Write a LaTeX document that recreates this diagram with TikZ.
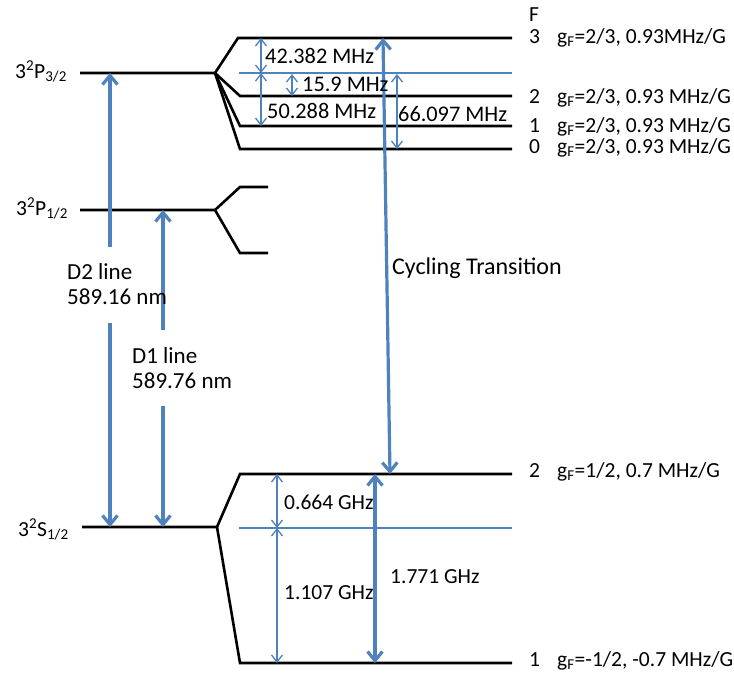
\documentclass[tikz,border=0pt]{standalone}
\usepackage{fontspec}
\setmainfont{Carlito}
\usetikzlibrary{arrows.meta}
\definecolor{oblue}{RGB}{79,129,189}
\begin{document}
\begin{tikzpicture}[x=1pt,y=-1pt,
  level/.style={line width=2.6pt, black, line join=miter},
  fine/.style={oblue, line width=1.3pt},
  gaparrow/.style={fine, {Straight Barb[length=7pt,width=11pt]}-{Straight Barb[length=7pt,width=11pt]}},
  bigtip/.style={oblue, line width=3.2pt, -{Straight Barb[length=9pt,width=15pt]}},
  bigboth/.style={oblue, line width=3.2pt, {Straight Barb[length=9pt,width=15pt]}-{Straight Barb[length=9pt,width=15pt]}},
  lab/.style={font=\fontsize{21.5}{25}\selectfont, inner sep=0pt, anchor=base west},
  labm/.style={lab, font=\fontsize{22.3}{26}\selectfont},
  labd/.style={lab, font=\fontsize{23}{27}\selectfont},
  labc/.style={lab, font=\fontsize{24}{28}\selectfont}]
\useasboundingbox (0,0) rectangle (734,673);

% ---- level coordinates ----
\coordinate (P3L) at (80,73);  \coordinate (P3f) at (215,73);
\coordinate (F3a) at (238,38); \coordinate (F3b) at (512,38);
\coordinate (F2a) at (240,96); \coordinate (F2b) at (512,96);
\coordinate (F1a) at (240,126); \coordinate (F1b) at (512,126);
\coordinate (F0a) at (240,149); \coordinate (F0b) at (512,149);
\coordinate (P3bl) at (239,73); \coordinate (P3br) at (512,73);

\coordinate (P1L) at (80,210); \coordinate (P1f) at (215,210);
\coordinate (P1ua) at (240,187); \coordinate (P1ub) at (268,187);
\coordinate (P1la) at (240,253); \coordinate (P1lb) at (268,253);

\coordinate (SL) at (82,527); \coordinate (Sf) at (217,527);
\coordinate (S2a) at (240,474); \coordinate (S2b) at (512,474);
\coordinate (S1a) at (240,663); \coordinate (S1b) at (512,663);
\coordinate (Sbl) at (239,528); \coordinate (Sbr) at (512,528);

% ---- levels ----
\draw[level] (P3L) -- (P3f) -- (F3a) -- (F3b);
\draw[level] (P3f) -- (F2a) -- (F2b);
\draw[level] (P3f) -- (F1a) -- (F1b);
\draw[level] (P3f) -- (F0a) -- (F0b);
\draw[fine] (P3bl) -- (P3br);

\draw[level] (P1L) -- (P1f) -- (P1ua) -- (P1ub);
\draw[level] (P1f) -- (P1la) -- (P1lb);

\draw[level] (SL) -- (Sf) -- (S2a) -- (S2b);
\draw[level] (Sf) -- (S1a) -- (S1b);
\draw[fine] (Sbl) -- (Sbr);

% ---- splitting arrows ----
\coordinate (a1t) at (261,38);  \coordinate (a1b) at (261,73);
\coordinate (a2b) at (261,126);
\coordinate (a3t) at (292,74);  \coordinate (a3b) at (292,96);
\coordinate (a4t) at (397,74);  \coordinate (a4b) at (397,149);
\draw[gaparrow] (a1t) -- (a1b);
\draw[gaparrow] (a1b) -- (a2b);
\draw[gaparrow] (a3t) -- (a3b);
\draw[gaparrow] (a4t) -- (a4b);

\coordinate (g1t) at (277,474); \coordinate (g1m) at (277,528); \coordinate (g1b) at (277,663);
\draw[gaparrow] (g1t) -- (g1m);
\draw[gaparrow] (g1m) -- (g1b);
\coordinate (g2t) at (375,474); \coordinate (g2b) at (375,663);
\draw[bigboth] (g2t) -- (g2b);

% cycling transition
\coordinate (ct) at (383,38); \coordinate (cb) at (390,474);
\draw[bigboth] (cb) -- (ct);

% D lines
\coordinate (d2u) at (110,247); \coordinate (d2t) at (110,73);
\coordinate (d2d) at (110,323); \coordinate (d2b) at (110,527);
\coordinate (d1u) at (163,330); \coordinate (d1t) at (163,210);
\coordinate (d1d) at (163,406); \coordinate (d1b) at (163,527);
\draw[bigtip] (d2u) -- (d2t);
\draw[bigtip] (d2d) -- (d2b);
\draw[bigtip] (d1u) -- (d1t);
\draw[bigtip] (d1d) -- (d1b);

% ---- labels ----
\node[labm] (l1) at (265,63) {42.382 MHz};
\node[labm] (l2) at (302,91) {15.9 MHz};
\node[labm] (l3) at (267,118) {50.288 MHz};
\node[labm] (l4) at (398,121) {66.097 MHz};
\node[labc] (lc) at (392,274) {Cycling Transition};
\node[labd] (ld2a) at (67,279) {D2 line};
\node[labd] (ld2b) at (67,304) {589.16 nm};
\node[labd] (ld1a) at (132,363) {D1 line};
\node[labd] (ld1b) at (132,388) {589.76 nm};
\node[lab] (lg1) at (284,509) {0.664 GHz};
\node[lab] (lg2) at (284,599) {1.107 GHz};
\node[lab] (lg3) at (390,583) {1.771 GHz};

\node[lab] (lP3) at (15,78) {3\textsuperscript{2}P\textsubscript{3/2}};
\node[lab] (lP1) at (16,215) {3\textsuperscript{2}P\textsubscript{1/2}};
\node[lab] (lS) at (18,536) {3\textsuperscript{2}S\textsubscript{1/2}};

\node[lab] (nF) at (529,21) {F};
\node[lab] (n3) at (529,43) {3};
\node[lab] (g3) at (557,43) {g\textsubscript{F}=2/3, 0.93MHz/G};
\node[lab] (n2) at (529,103) {2};
\node[lab] (g2) at (557,103) {g\textsubscript{F}=2/3, 0.93 MHz/G};
\node[lab] (n1) at (529,132) {1};
\node[lab] (g1) at (557,132) {g\textsubscript{F}=2/3, 0.93 MHz/G};
\node[lab] (n0) at (529,153) {0};
\node[lab] (g0) at (557,153) {g\textsubscript{F}=2/3, 0.93 MHz/G};
\node[lab] (ns2) at (529,477) {2};
\node[lab] (gs2) at (557,477) {g\textsubscript{F}=1/2, 0.7 MHz/G};
\node[lab] (ns1) at (529,666) {1};
\node[lab] (gs1) at (557,666) {g\textsubscript{F}=-1/2, -0.7 MHz/G};
\end{tikzpicture}
\end{document}
